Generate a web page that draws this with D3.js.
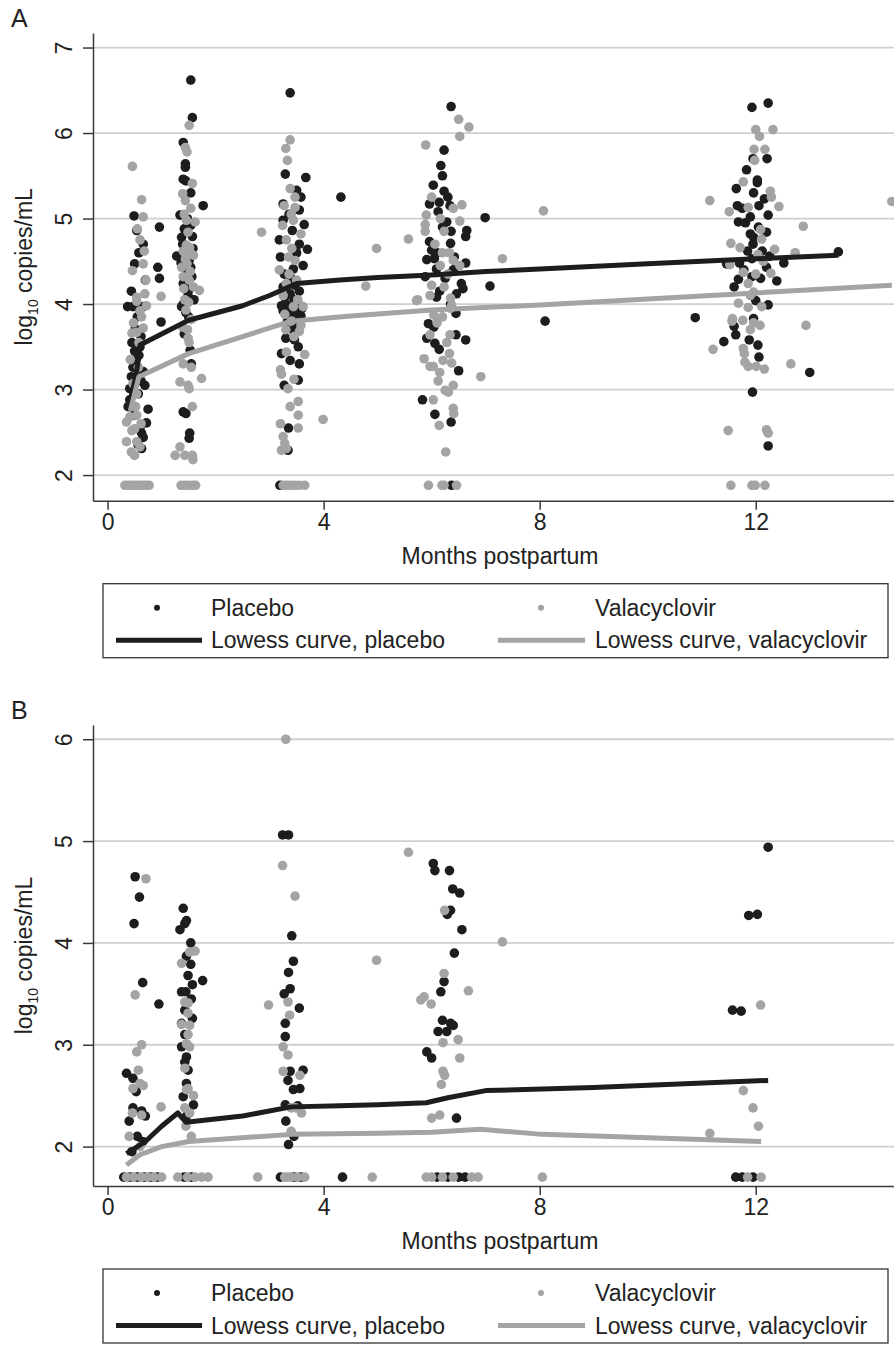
<!DOCTYPE html>
<html>
<head>
<meta charset="utf-8">
<script src="https://cdn.jsdelivr.net/npm/d3@7"></script>
<style>
  html, body { margin: 0; padding: 0; background: #fff; }
  svg text { font-family: "Liberation Sans", Arial, Helvetica, sans-serif; fill: #222; }
</style>
</head>
<body>
<div id="chart"></div>
<script>
// x軸の目盛り（産後の月数）
const monthTicks = [0, 4, 8, 12];
const yTicksA = [2, 3, 4, 5, 6, 7];
const yTicksB = [2, 3, 4, 5, 6];

// パネルA: [月, log10 copies/mL]
const placeboA = [
  [0.49,5.03],[0.96,4.90],[0.54,4.86],[0.66,4.70],[0.50,4.47],[0.93,4.43],[0.96,4.30],[0.70,4.28],
  [0.37,3.97],[0.47,3.97],[0.54,3.97],[0.66,3.97],[0.99,3.79],[0.51,3.71],[0.60,3.50],[0.58,3.40],
  [0.47,3.26],[0.66,3.21],[0.44,3.15],[0.62,3.10],[0.41,3.01],[0.69,3.05],[0.41,2.88],[0.38,2.80],
  [0.75,2.77],[0.72,2.61],[0.63,2.49],[0.66,2.44],[0.63,2.31],[0.55,3.85],[0.45,3.55],[0.52,3.35],
  [0.57,2.95],[0.48,2.70],[0.60,2.55],[0.56,2.36],[0.58,4.60],[0.44,4.15],[0.62,3.62],[0.50,3.45],
  [1.54,6.62],[1.57,6.18],[1.40,5.89],[1.44,5.64],[1.44,5.60],[1.40,5.46],[1.45,5.44],[1.54,5.30],
  [1.77,5.15],[1.34,5.04],[1.54,4.92],[1.37,4.78],[1.57,4.79],[1.39,4.70],[1.43,4.62],[1.28,4.56],
  [1.51,4.51],[1.54,4.43],[1.46,4.40],[1.56,4.32],[1.40,4.24],[1.52,4.22],[1.49,4.10],[1.40,4.00],
  [1.37,3.97],[1.53,3.46],[1.40,2.74],[1.45,2.72],[1.52,2.49],[1.51,2.43],[1.45,3.90],[1.50,3.85],
  [1.42,3.65],[1.55,3.30],[1.48,5.00],[1.42,4.88],[1.58,4.65],[1.36,4.48],[1.50,4.16],[1.60,4.05],
  [3.38,6.47],[3.29,5.52],[3.67,5.48],[4.32,5.25],[3.50,5.33],[3.58,5.25],[3.25,5.17],[3.55,5.10],
  [3.25,4.98],[3.64,4.93],[3.42,4.86],[3.18,4.75],[3.55,4.70],[3.70,4.64],[3.44,4.41],[3.47,4.22],
  [3.25,4.20],[3.28,4.08],[3.35,3.89],[3.50,3.89],[3.53,3.50],[3.38,3.34],[3.55,3.30],[3.53,3.11],
  [3.27,3.05],[3.35,2.55],[3.34,2.29],[3.19,1.88],[3.30,4.00],[3.40,3.97],[3.45,4.05],[3.60,3.95],
  [3.35,3.85],[3.25,3.92],[3.55,4.15],[3.48,3.78],[3.42,3.70],[3.30,3.60],[3.62,4.45],[3.20,4.55],
  [3.38,4.12],[3.52,4.02],[3.22,3.98],[3.44,3.92],[3.58,3.86],[3.33,3.80],[3.40,4.30],[3.27,4.35],
  [3.50,4.60],[3.36,5.05],[3.46,3.58],[3.22,3.42],
  [6.36,6.31],[6.23,5.80],[6.17,5.62],[6.20,5.50],[6.03,5.39],[6.23,5.32],[6.14,5.19],[5.96,5.17],
  [6.34,5.15],[6.12,5.08],[6.99,5.01],[6.28,4.96],[6.36,4.85],[6.65,4.86],[6.63,4.79],[5.96,4.73],
  [6.35,4.71],[6.00,4.63],[5.91,4.52],[6.05,4.53],[6.63,4.48],[6.09,4.41],[6.40,4.40],[5.88,4.32],
  [6.55,4.24],[7.08,4.21],[6.58,4.18],[6.09,4.08],[6.45,3.89],[8.10,3.80],[5.94,3.77],[6.04,3.73],
  [5.91,3.60],[6.45,3.64],[6.63,3.58],[6.06,3.54],[6.14,3.47],[6.50,3.22],[5.83,2.88],[6.06,2.71],
  [6.36,2.62],[6.37,1.88],[6.25,4.30],[6.15,4.15],[6.35,4.00],[6.20,4.90],[6.10,4.60],[6.42,4.55],
  [6.30,5.25],[6.46,4.12],
  [11.93,6.30],[12.23,6.35],[11.95,5.70],[12.21,5.70],[11.83,5.57],[12.03,5.45],[12.03,5.42],[11.64,5.35],
  [11.96,5.30],[12.16,5.23],[11.66,5.15],[11.75,5.12],[11.90,5.02],[12.23,5.04],[11.68,4.96],[11.81,4.95],
  [11.90,4.82],[11.96,4.78],[12.20,4.84],[11.95,4.70],[12.26,4.56],[11.93,4.53],[13.53,4.61],[11.46,4.47],
  [11.70,4.48],[12.52,4.48],[12.20,4.43],[11.68,4.29],[11.93,4.32],[12.09,4.30],[12.39,4.27],[11.60,4.20],
  [12.00,4.04],[12.23,3.99],[10.88,3.84],[11.96,3.83],[11.60,3.74],[11.63,3.64],[11.41,3.56],[11.88,3.58],
  [12.04,3.52],[12.06,3.38],[13.00,3.20],[11.94,2.97],[12.23,2.34],[12.05,4.90],[11.85,4.62],[12.12,4.62],
  [12.06,5.15],[11.78,4.40]
];
const valacyclovirA = [
  [0.46,5.61],[0.63,5.22],[0.66,5.02],[0.55,4.88],[0.60,4.75],[0.66,4.47],[0.46,4.39],[0.71,4.28],
  [0.54,4.08],[0.69,4.12],[0.99,4.09],[0.54,4.03],[0.72,3.98],[0.63,3.85],[0.54,3.67],[0.45,3.66],
  [0.58,3.55],[0.57,3.26],[0.47,3.07],[0.54,2.95],[0.52,2.80],[0.54,2.70],[0.41,2.68],[0.35,2.62],
  [0.62,2.60],[0.50,2.54],[0.45,2.52],[0.35,2.39],[0.54,2.39],[0.60,2.33],[0.44,2.27],[0.50,2.23],
  [0.48,3.78],[0.66,3.72],[0.42,3.35],[0.60,3.92],[0.68,4.62],
  [0.32,1.88],[0.38,1.88],[0.44,1.88],[0.49,1.88],[0.55,1.88],[0.60,1.88],[0.66,1.88],[0.71,1.88],[0.77,1.88],
  [1.51,6.09],[1.44,5.83],[1.47,5.78],[1.57,5.41],[1.39,5.29],[1.44,5.21],[1.54,5.12],[1.42,5.05],
  [1.46,4.98],[1.62,4.96],[1.49,4.84],[1.46,4.69],[1.52,4.66],[1.40,4.62],[1.54,4.59],[1.59,4.57],
  [1.47,4.47],[1.37,4.43],[1.40,4.32],[1.51,4.28],[1.59,4.20],[1.70,4.16],[1.43,4.05],[1.50,4.02],
  [1.45,3.93],[1.39,3.73],[1.48,3.70],[1.49,3.60],[1.51,3.55],[1.40,3.30],[1.55,3.26],[1.74,3.13],
  [1.34,3.09],[1.49,3.05],[1.51,3.01],[1.57,2.80],[1.34,2.33],[1.25,2.23],[1.43,2.23],[1.57,2.23],
  [1.58,2.18],[1.44,4.52],[1.53,4.38],[1.41,4.18],[1.55,3.82],
  [1.36,1.88],[1.43,1.88],[1.50,1.88],[1.58,1.88],[1.63,1.88],
  [3.38,5.92],[3.30,5.82],[3.33,5.68],[3.38,5.35],[3.47,5.25],[3.47,5.13],[3.27,5.15],[3.44,4.98],
  [3.58,4.82],[3.31,4.75],[2.85,4.84],[3.41,4.65],[3.35,4.55],[3.47,4.51],[3.18,4.40],[4.98,4.65],
  [4.78,4.21],[3.31,4.24],[3.44,3.97],[3.62,3.97],[3.25,4.10],[3.52,4.05],[3.40,3.80],[3.58,3.75],
  [3.30,3.70],[3.45,3.62],[3.31,3.44],[3.65,3.41],[3.20,3.23],[3.22,3.18],[3.45,3.12],[3.34,3.01],
  [3.53,2.86],[3.38,2.80],[3.53,2.70],[3.99,2.65],[3.20,2.60],[3.53,2.55],[3.25,2.45],[3.28,2.37],
  [3.31,2.31],[3.22,2.29],[3.36,4.35],[3.50,4.28],[3.28,3.88],[3.55,3.68],[3.40,5.05],[3.24,4.92],
  [3.25,1.88],[3.32,1.88],[3.40,1.88],[3.47,1.88],[3.55,1.88],[3.65,1.88],
  [6.50,6.16],[6.69,6.07],[6.52,5.96],[5.89,5.86],[6.00,5.25],[6.56,5.16],[6.40,5.12],[5.90,5.04],
  [6.16,5.00],[5.88,4.93],[6.52,4.97],[5.88,4.85],[6.23,4.85],[5.57,4.76],[6.06,4.70],[6.20,4.60],
  [6.33,4.60],[6.40,4.51],[6.16,4.45],[7.31,4.53],[6.52,4.45],[6.30,4.35],[6.00,4.22],[6.23,4.20],
  [5.74,4.05],[5.97,4.10],[6.35,4.07],[6.37,3.98],[8.07,5.09],[5.72,4.04],[6.04,3.87],[6.20,3.85],
  [6.35,3.95],[5.97,3.64],[6.34,3.64],[6.33,3.42],[5.86,3.36],[6.21,3.34],[6.37,3.31],[5.97,3.27],
  [6.03,3.27],[6.15,3.20],[6.91,3.15],[6.12,3.10],[6.40,3.05],[6.25,2.99],[6.31,2.97],[6.03,2.88],
  [6.40,2.78],[6.41,2.72],[6.14,2.58],[6.26,2.27],[6.10,3.78],[6.28,3.55],
  [5.94,1.88],[6.19,1.88],[6.23,1.88],[6.46,1.88],
  [12.00,6.04],[12.32,6.04],[12.07,5.96],[11.97,5.81],[12.17,5.81],[11.98,5.68],[11.77,5.43],[12.27,5.32],
  [12.29,5.25],[11.15,5.21],[12.43,5.14],[11.86,5.13],[11.51,5.08],[14.52,5.20],[12.88,4.91],[12.09,4.87],
  [11.54,4.71],[11.71,4.66],[12.11,4.76],[12.35,4.64],[12.73,4.60],[11.52,4.46],[12.14,4.50],[11.77,4.37],
  [12.00,4.35],[12.28,4.36],[11.86,4.24],[11.96,4.14],[11.68,4.01],[11.86,3.96],[12.11,3.97],[11.57,3.83],
  [11.76,3.81],[11.56,3.80],[11.96,3.78],[12.08,3.75],[12.93,3.75],[11.90,3.70],[11.21,3.47],[11.77,3.48],
  [11.79,3.42],[11.80,3.32],[11.86,3.27],[12.01,3.27],[12.16,3.24],[12.65,3.30],[11.49,2.52],[12.20,2.53],
  [12.23,2.49],[12.04,4.58],[11.90,4.10],
  [11.54,1.88],[11.93,1.88],[11.99,1.88],[12.17,1.88]
];
const lowessPlaceboA = [[0.36,2.76],[0.45,2.95],[0.52,3.15],[0.57,3.35],[0.60,3.52],[1.50,3.81],[2.50,3.98],
  [3.00,4.10],[3.50,4.24],[4.30,4.28],[5.00,4.31],[6.00,4.34],[7.00,4.38],[8.00,4.41],[10.00,4.47],[12.00,4.53],[13.53,4.57]];
const lowessValacyclovirA = [[0.42,2.75],[0.50,2.95],[0.58,3.15],[1.50,3.42],[2.50,3.62],[3.40,3.80],[4.50,3.86],
  [6.00,3.93],[8.00,3.99],[10.00,4.06],[12.00,4.13],[14.52,4.22]];

// パネルB
const placeboB = [
  [0.51,4.65],[0.59,4.45],[0.49,4.19],[0.65,3.61],[0.95,3.40],[0.35,2.72],[0.47,2.67],[0.53,2.54],
  [0.47,2.38],[0.63,2.35],[0.70,2.30],[0.40,2.25],[0.55,2.10],[0.65,2.05],[0.45,1.95],
  [0.30,1.70],[0.42,1.70],[0.55,1.70],[0.68,1.70],[0.80,1.70],[0.92,1.70],
  [1.40,4.34],[1.46,4.22],[1.43,4.19],[1.34,4.13],[1.54,4.00],[1.46,3.87],[1.54,3.79],[1.49,3.68],
  [1.57,3.59],[1.76,3.63],[1.37,3.52],[1.45,3.52],[1.55,3.45],[1.43,3.34],[1.57,3.26],[1.37,3.21],
  [1.43,3.10],[1.37,2.98],[1.46,2.88],[1.43,2.83],[1.49,2.75],[1.46,2.62],[1.40,2.49],[1.59,2.41],
  [1.46,2.30],[1.42,1.70],[1.55,1.70],
  [3.24,5.06],[3.35,5.06],[3.41,4.07],[3.44,3.82],[3.35,3.71],[3.38,3.55],[3.27,3.50],[3.55,3.36],
  [3.29,3.21],[3.29,3.08],[3.38,2.74],[3.62,2.75],[3.34,2.65],[3.44,2.56],[3.56,2.57],[3.29,2.41],
  [3.52,2.40],[3.30,2.25],[3.45,2.10],[3.35,2.02],[3.20,1.70],[3.45,1.70],[3.58,1.70],[4.35,1.70],
  [6.03,4.78],[6.06,4.71],[6.33,4.71],[6.39,4.53],[6.52,4.49],[6.35,4.32],[6.29,4.28],[6.56,4.13],
  [6.42,3.90],[6.23,3.62],[6.17,3.52],[6.20,3.24],[6.35,3.21],[6.40,3.19],[6.12,3.13],[6.28,3.13],
  [5.91,2.93],[6.00,2.87],[6.46,2.28],[6.10,1.70],[6.30,1.70],[6.50,1.70],[6.62,1.70],
  [12.23,4.94],[11.87,4.27],[12.03,4.28],[11.57,3.34],[11.73,3.33],[11.63,1.70],[11.75,1.70],[11.95,1.70]
];
const valacyclovirB = [
  [0.71,4.63],[0.51,3.49],[0.63,3.00],[0.54,2.93],[0.57,2.75],[0.60,2.62],[0.47,2.57],[0.66,2.60],
  [0.99,2.39],[0.46,2.33],[0.63,2.31],[0.40,2.10],[0.60,2.00],
  [0.35,1.70],[0.48,1.70],[0.62,1.70],[0.74,1.70],[0.86,1.70],[1.00,1.70],
  [1.52,3.91],[1.62,3.92],[1.37,3.80],[1.43,3.42],[1.49,3.41],[1.49,3.31],[1.52,3.19],[1.37,3.20],
  [1.49,3.10],[1.46,3.01],[1.52,2.98],[1.43,2.77],[1.49,2.57],[1.46,2.56],[1.59,2.50],[1.43,2.38],
  [1.52,2.33],[1.45,2.20],[1.55,2.10],[1.30,1.70],[1.48,1.70],[1.62,1.70],[1.74,1.70],[1.86,1.70],
  [3.30,6.00],[3.24,4.76],[3.47,4.46],[2.98,3.39],[3.34,3.42],[3.37,3.29],[3.25,2.98],[3.34,2.90],
  [3.25,2.74],[3.56,2.70],[3.40,2.38],[3.48,2.38],[3.59,2.33],[3.40,2.15],
  [2.78,1.70],[3.28,1.70],[3.34,1.70],[3.40,1.70],[3.52,1.70],[3.65,1.70],[4.90,1.70],
  [5.57,4.89],[7.31,4.01],[4.98,3.83],[6.24,4.32],[6.23,3.70],[6.68,3.53],[5.86,3.47],[5.80,3.44],
  [5.99,3.40],[6.49,3.05],[6.21,3.02],[6.52,2.87],[6.21,2.74],[6.24,2.70],[6.18,2.61],[6.00,2.28],
  [6.15,2.31],[5.90,1.70],[6.00,1.70],[6.20,1.70],[6.40,1.70],[6.74,1.70],[6.86,1.70],[8.05,1.70],
  [12.09,3.39],[11.15,2.13],[11.77,2.55],[12.05,2.20],[11.95,2.38],[11.85,1.70],[12.10,1.70]
];
const lowessPlaceboB = [[0.35,1.93],[0.70,2.05],[1.00,2.20],[1.30,2.33],[1.45,2.24],[2.50,2.30],[3.40,2.39],
  [4.30,2.40],[5.00,2.41],[5.90,2.43],[6.30,2.48],[7.00,2.55],[9.00,2.58],[12.23,2.65]];
const lowessValacyclovirB = [[0.35,1.82],[0.60,1.92],[1.00,2.00],[1.50,2.05],[3.40,2.12],[5.00,2.13],
  [6.00,2.14],[6.90,2.17],[8.05,2.12],[12.10,2.05]];

const legendLabels = ["Placebo", "Valacyclovir", "Lowess curve, placebo", "Lowess curve, valacyclovir"];

// 色とサイズ
const black = "#1e1c1d";
const gray = "#a4a4a6";
const width = 894, height = 1346;
const plotLeft = 93, plotRight = 894;

const svg = d3.select("#chart").append("svg")
  .attr("width", width)
  .attr("height", height);

const x = d3.scaleLinear().domain([-0.27, 14.56]).range([plotLeft, plotRight]);

function drawPanel(cfg) {
  const y = d3.scaleLinear().domain(cfg.yDomain).range([cfg.bottom, cfg.top]);
  const g = svg.append("g");

  // パネル記号
  g.append("text").attr("x", 11).attr("y", cfg.top - 6).style("font-size", "25px").text(cfg.label);

  // グリッド線
  g.append("g").selectAll("line")
    .data(cfg.yTicks)
    .enter().append("line")
    .attr("x1", plotLeft).attr("x2", plotRight)
    .attr("y1", d => y(d)).attr("y2", d => y(d))
    .attr("stroke", "#cfcfcf").attr("stroke-width", 1.8);

  // y軸
  const yAxis = g.append("g")
    .attr("transform", `translate(${plotLeft},0)`)
    .call(d3.axisLeft(y).tickValues(cfg.yTicks).tickSize(10).tickSizeOuter(0).tickFormat(d3.format("d")));
  yAxis.select(".domain").attr("stroke", "#3a3a3a").attr("stroke-width", 1.5);
  yAxis.selectAll(".tick line").attr("stroke", "#3a3a3a").attr("stroke-width", 1.5);
  yAxis.selectAll(".tick text")
    .attr("transform", "rotate(-90)")
    .attr("x", 0).attr("y", -21).attr("dy", 0)
    .style("text-anchor", "middle")
    .style("font-size", "23px")
    .attr("fill", "#222");

  // x軸
  const xAxis = g.append("g")
    .attr("transform", `translate(0,${cfg.bottom})`)
    .call(d3.axisBottom(x).tickValues(monthTicks).tickSize(9).tickSizeOuter(0));
  xAxis.select(".domain").attr("stroke", "#3a3a3a").attr("stroke-width", 1.5);
  xAxis.selectAll(".tick line").attr("stroke", "#3a3a3a").attr("stroke-width", 1.5);
  xAxis.selectAll(".tick text")
    .attr("y", 29).attr("dy", 0)
    .style("font-size", "23px")
    .attr("fill", "#222");

  // 軸ラベル
  g.append("text")
    .attr("x", 500).attr("y", cfg.bottom + 63)
    .style("text-anchor", "middle").style("font-size", "23px")
    .text("Months postpartum");

  const yl = g.append("text")
    .attr("transform", `translate(32,${(cfg.top + cfg.bottom) / 2}) rotate(-90)`)
    .style("text-anchor", "middle").style("font-size", "23px");
  yl.append("tspan").text("log");
  yl.append("tspan").attr("dy", 6).style("font-size", "14px").text("10");
  yl.append("tspan").attr("dy", -6).text(" copies/mL");

  // 散布点
  const clipId = "clip" + cfg.label;
  svg.append("clipPath").attr("id", clipId)
    .append("rect").attr("x", plotLeft).attr("y", cfg.top).attr("width", plotRight - plotLeft).attr("height", cfg.bottom - cfg.top);
  const pts = g.append("g").attr("clip-path", `url(#${clipId})`);

  pts.selectAll(".pl")
    .data(cfg.placebo)
    .enter().append("circle")
    .attr("class", "pl")
    .attr("cx", d => x(d[0])).attr("cy", d => y(d[1])).attr("r", 4.8)
    .attr("fill", black);

  pts.selectAll(".va")
    .data(cfg.valacyclovir)
    .enter().append("circle")
    .attr("class", "va")
    .attr("cx", d => x(d[0])).attr("cy", d => y(d[1])).attr("r", 4.8)
    .attr("fill", gray);

  // Lowess曲線
  const line = d3.line().x(d => x(d[0])).y(d => y(d[1]));
  pts.append("path").datum(cfg.lowessPlacebo)
    .attr("d", line).attr("fill", "none").attr("stroke", black).attr("stroke-width", 5).attr("stroke-linejoin", "round");
  pts.append("path").datum(cfg.lowessValacyclovir)
    .attr("d", line).attr("fill", "none").attr("stroke", gray).attr("stroke-width", 5).attr("stroke-linejoin", "round");

  // 凡例
  const lg = g.append("g").attr("transform", `translate(103,${cfg.bottom + 83})`);
  lg.append("rect").attr("x", 0).attr("y", 0).attr("width", 785).attr("height", 74)
    .attr("fill", "none").attr("stroke", "#333").attr("stroke-width", 1.3);
  lg.append("circle").attr("cx", 54).attr("cy", 24).attr("r", 3).attr("fill", black);
  lg.append("circle").attr("cx", 438).attr("cy", 24).attr("r", 3).attr("fill", gray);
  lg.append("line").attr("x1", 13).attr("x2", 99).attr("y1", 56.5).attr("y2", 56.5).attr("stroke", black).attr("stroke-width", 5);
  lg.append("line").attr("x1", 395).attr("x2", 482).attr("y1", 56.5).attr("y2", 56.5).attr("stroke", gray).attr("stroke-width", 5);
  const lt = [[108, 32], [492, 32], [108, 64.5], [492, 64.5]];
  lg.selectAll(".lt").data(legendLabels).enter().append("text")
    .attr("class", "lt")
    .attr("x", (d, i) => lt[i][0]).attr("y", (d, i) => lt[i][1])
    .style("font-size", "23px")
    .text(d => d);
}

drawPanel({
  label: "A", top: 33, bottom: 500.7, yDomain: [1.70, 7.17], yTicks: yTicksA,
  placebo: placeboA, valacyclovir: valacyclovirA,
  lowessPlacebo: lowessPlaceboA, lowessValacyclovir: lowessValacyclovirA
});
drawPanel({
  label: "B", top: 725, bottom: 1186, yDomain: [1.613, 6.14], yTicks: yTicksB,
  placebo: placeboB, valacyclovir: valacyclovirB,
  lowessPlacebo: lowessPlaceboB, lowessValacyclovir: lowessValacyclovirB
});
</script>
</body>
</html>
